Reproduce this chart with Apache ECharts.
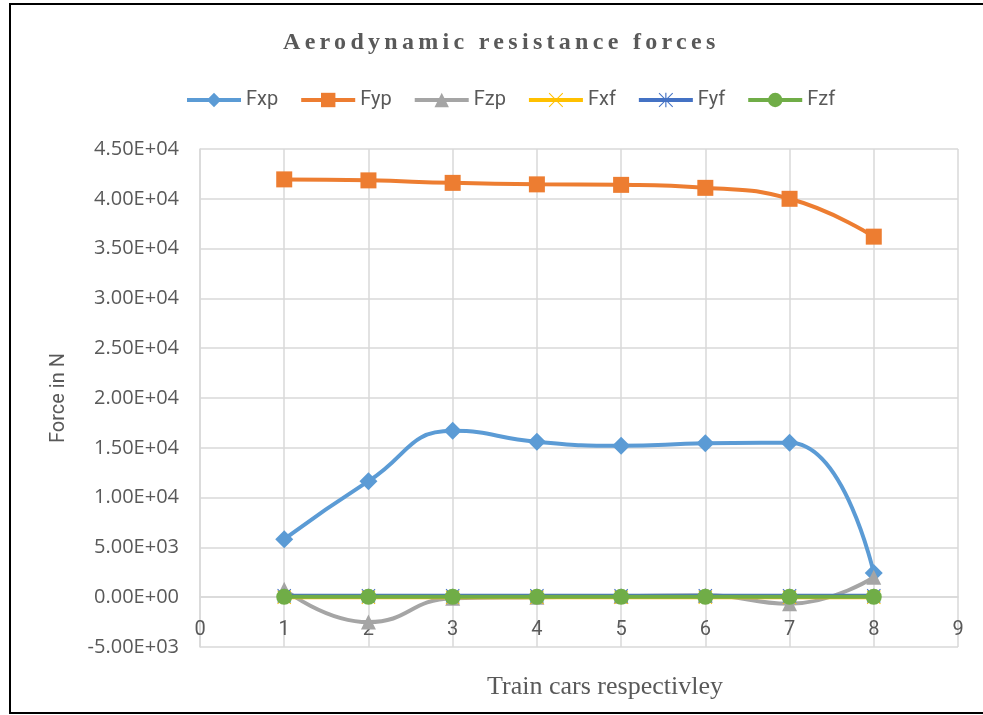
<!DOCTYPE html>
<html>
<head>
<meta charset="utf-8">
<script src="https://cdn.jsdelivr.net/npm/echarts@6/dist/echarts.min.js"></script>
<style>html,body{margin:0;padding:0;background:#fff;}#chart{width:983px;height:715px;}</style>
</head>
<body>
<div id="chart"></div>
<script>
// ---- data ----
const titleText = 'Aerodynamic resistance forces';
const xAxisName = 'Train cars respectivley';
const yAxisName = 'Force in N';
const cars = [1, 2, 3, 4, 5, 6, 7, 8];
const Fxp = [5830, 11650, 16700, 15600, 15200, 15450, 15500, 2420];
const Fyp = [41950, 41850, 41600, 41450, 41400, 41100, 40000, 36200];
const Fzp = [800, -2500, -100, 0, 100, 200, -650, 2000];
const Fxf = [0, 0, 0, 0, 0, 0, 0, 0];
const Fyf = [150, 150, 150, 150, 150, 150, 150, 150];
const Fzf = [40, 40, 40, 40, 40, 40, 40, 40];
const yTicks = [-5000, 0, 5000, 10000, 15000, 20000, 25000, 30000, 35000, 40000, 45000];
const yTickLabels = ['-5.00E+03', '0.00E+00', '5.00E+03', '1.00E+04', '1.50E+04', '2.00E+04', '2.50E+04', '3.00E+04', '3.50E+04', '4.00E+04', '4.50E+04'];
const xTicks = [0, 1, 2, 3, 4, 5, 6, 7, 8, 9];

// letter-spaced title (canvas letterSpacing)
const origFill = CanvasRenderingContext2D.prototype.fillText;
CanvasRenderingContext2D.prototype.fillText = function (t, x, y, w) {
  if (t === titleText && 'letterSpacing' in this) {
    const ls = this.letterSpacing;
    this.letterSpacing = '4.3px';
    origFill.call(this, t, x, y, w);
    this.letterSpacing = ls;
  } else {
    origFill.call(this, t, x, y, w);
  }
};

const pts = arr => cars.map((c, i) => [c, arr[i]]);
const xPath = 'path://M1,0 L10,9 L19,0 L20,1 L11,10 L20,19 L19,20 L10,11 L1,20 L0,19 L9,10 L0,1 Z';
const starPath = 'path://M1,0 L10,9 L19,0 L20,1 L11,10 L20,19 L19,20 L10,11 L1,20 L0,19 L9,10 L0,1 Z M9.2,0 L10.8,0 L10.8,20 L9.2,20 Z';

const narrow = "'Liberation Sans Narrow', 'Roboto', sans-serif";
const labelFont = "'Open Sans', 'DejaVu Sans', sans-serif";

const gridTop = 149, gridBottom = 68, chartH = 715;
const plotH = chartH - gridTop - gridBottom;
const yMin = -5000, yMax = 45000;
const zeroOffset = -plotH * (0 - yMin) / (yMax - yMin);

const mk = (name, data, color, symbol, size, z) => ({
  name, type: 'line', data: pts(data), smooth: 0.5,
  symbol, symbolSize: size, z,
  lineStyle: { color, width: 4 },
  itemStyle: { color },
  emphasis: { disabled: true }
});

const chart = echarts.init(document.getElementById('chart'), null, { renderer: 'canvas' });
chart.setOption({
  animation: false,
  backgroundColor: '#ffffff',
  title: {
    text: titleText, left: 278, top: 26,
    textStyle: { fontFamily: "'Liberation Serif', 'Times New Roman', serif", fontWeight: 'bold', fontSize: 24, color: '#595959' }
  },
  legend: {
    left: 180, top: 85, itemWidth: 54, itemHeight: 18, itemGap: 21,
    lineStyle: { width: 4 },
    textStyle: { fontFamily: narrow, fontSize: 20, color: '#595959' },
    data: ['Fxp', 'Fyp', 'Fzp', 'Fxf', 'Fyf', 'Fzf']
  },
  grid: { left: 200, right: 25, top: gridTop, bottom: gridBottom, containLabel: false },
  xAxis: {
    type: 'value', min: 0, max: 9, interval: 1, offset: zeroOffset,
    axisLine: { show: true, onZero: false, lineStyle: { color: '#d9d9d9', width: 1.5 } },
    axisTick: { show: false },
    axisLabel: { fontFamily: narrow, fontSize: 20, color: '#595959', margin: 23,
      formatter: v => String(xTicks[xTicks.indexOf(v)]) },
    splitLine: { show: true, lineStyle: { color: '#d9d9d9', width: 1.5 } }
  },
  yAxis: {
    type: 'value', min: yMin, max: yMax, interval: 5000,
    axisLine: { show: true, onZero: false, lineStyle: { color: '#d9d9d9', width: 1.5 } },
    axisTick: { show: false },
    axisLabel: { fontFamily: labelFont, fontSize: 20, color: '#595959', margin: 21,
      formatter: v => yTickLabels[yTicks.indexOf(v)] },
    splitLine: { show: true, lineStyle: { color: '#d9d9d9', width: 1.5 } },
    name: yAxisName, nameLocation: 'middle', nameGap: 131, nameRotate: 90,
    nameTextStyle: { fontFamily: narrow, fontSize: 20, color: '#595959' }
  },
  graphic: [
    { type: 'rect', shape: { x: 10, y: 4, width: 990, height: 709 }, style: { fill: 'none', stroke: '#000', lineWidth: 2 }, z: 100, silent: true },
    { type: 'text', x: 605, y: 687, style: { text: xAxisName, fontFamily: "'Liberation Serif', 'Times New Roman', serif", fontSize: 26, fill: '#595959', textAlign: 'center', textVerticalAlign: 'middle' } }
  ],
  series: [
    mk('Fxp', Fxp, '#5B9BD5', 'diamond', 18, 2),
    mk('Fyp', Fyp, '#ED7D31', 'rect', 16, 3),
    mk('Fzp', Fzp, '#A5A5A5', 'triangle', 15, 4),
    mk('Fxf', Fxf, '#FFC000', xPath, 14, 5),
    mk('Fyf', Fyf, '#4472C4', starPath, 14, 6),
    mk('Fzf', Fzf, '#70AD47', 'circle', 16, 7)
  ]
});
</script>
</body>
</html>
